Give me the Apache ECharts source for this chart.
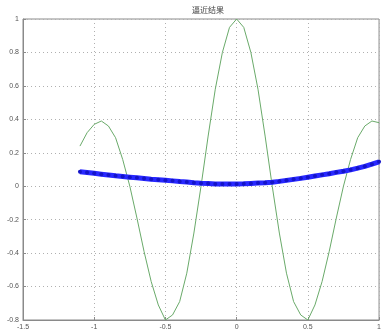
<!DOCTYPE html>
<html>
<head>
<meta charset="utf-8">
<script src="https://cdn.jsdelivr.net/npm/echarts@6/dist/echarts.min.js"></script>
<style>html,body{margin:0;padding:0;background:#fff}#c{width:384px;height:334px}</style>
</head>
<body>
<div id="c"></div>
<script>
const titleText = "逼近结果";
const xs = [-1.10,-1.05,-1.00,-0.95,-0.90,-0.85,-0.80,-0.75,-0.70,-0.65,-0.60,-0.55,-0.50,-0.45,-0.40,-0.35,-0.30,-0.25,-0.20,-0.15,-0.10,-0.05,0.00,0.05,0.10,0.15,0.20,0.25,0.30,0.35,0.40,0.45,0.50,0.55,0.60,0.65,0.70,0.75,0.80,0.85,0.90,0.95,1.00];
const targetValues = [0.24,0.32,0.37,0.39,0.36,0.29,0.16,0.00,-0.19,-0.39,-0.57,-0.71,-0.80,-0.77,-0.69,-0.52,-0.28,0.00,0.30,0.58,0.80,0.95,1.00,0.95,0.80,0.58,0.30,0.00,-0.28,-0.52,-0.69,-0.77,-0.80,-0.71,-0.57,-0.39,-0.19,0.00,0.16,0.29,0.36,0.39,0.38];
const fitValues = [0.086,0.082,0.077,0.072,0.067,0.062,0.058,0.054,0.050,0.046,0.042,0.039,0.036,0.032,0.028,0.025,0.021,0.018,0.016,0.014,0.013,0.013,0.014,0.015,0.017,0.019,0.021,0.024,0.029,0.035,0.041,0.047,0.054,0.061,0.068,0.075,0.083,0.090,0.098,0.108,0.119,0.132,0.146];

const chart = echarts.init(document.getElementById('c'), null, {renderer:'canvas'});
const axisCommon = {
  axisLine:{show:true,onZero:false,lineStyle:{color:'#8a8a8a',width:1}},
  axisTick:{show:true,inside:true,length:3,lineStyle:{color:'#8a8a8a'}},
  splitLine:{show:true,lineStyle:{color:'#b0b0b0',type:[1,3],width:1}},
  axisLabel:{color:'#555',fontSize:7,fontFamily:'Liberation Sans'}
};
chart.setOption({
  animation:false,
  title:{text:titleText,left:203,top:1,textAlign:'center',textStyle:{fontSize:8,fontWeight:'normal',color:'#444',fontFamily:'Noto Sans CJK SC'}},
  grid:{left:23,right:1,top:19,bottom:14,show:true,borderColor:'#8a8a8a',borderWidth:1},
  xAxis:Object.assign({type:'value',min:-1.5,max:1,interval:0.5},axisCommon,{axisLabel:Object.assign({},axisCommon.axisLabel,{margin:4})}),
  yAxis:Object.assign({type:'value',min:-0.8,max:1,interval:0.2},axisCommon,{axisLabel:Object.assign({},axisCommon.axisLabel,{margin:4,formatter:v=>String(Math.round(v*10)/10)})}),
  series:[
    {type:'line',data:xs.map((x,i)=>[x,targetValues[i]]),showSymbol:false,smooth:false,lineStyle:{color:'#6aaa6a',width:1},z:2},
    {type:'line',data:xs.map((x,i)=>[x,fitValues[i]]),symbol:'circle',symbolSize:4,
     itemStyle:{color:'#1414c8',borderWidth:0},
     lineStyle:{color:'#2828ff',width:5},z:3}
  ]
});
</script>
</body>
</html>
